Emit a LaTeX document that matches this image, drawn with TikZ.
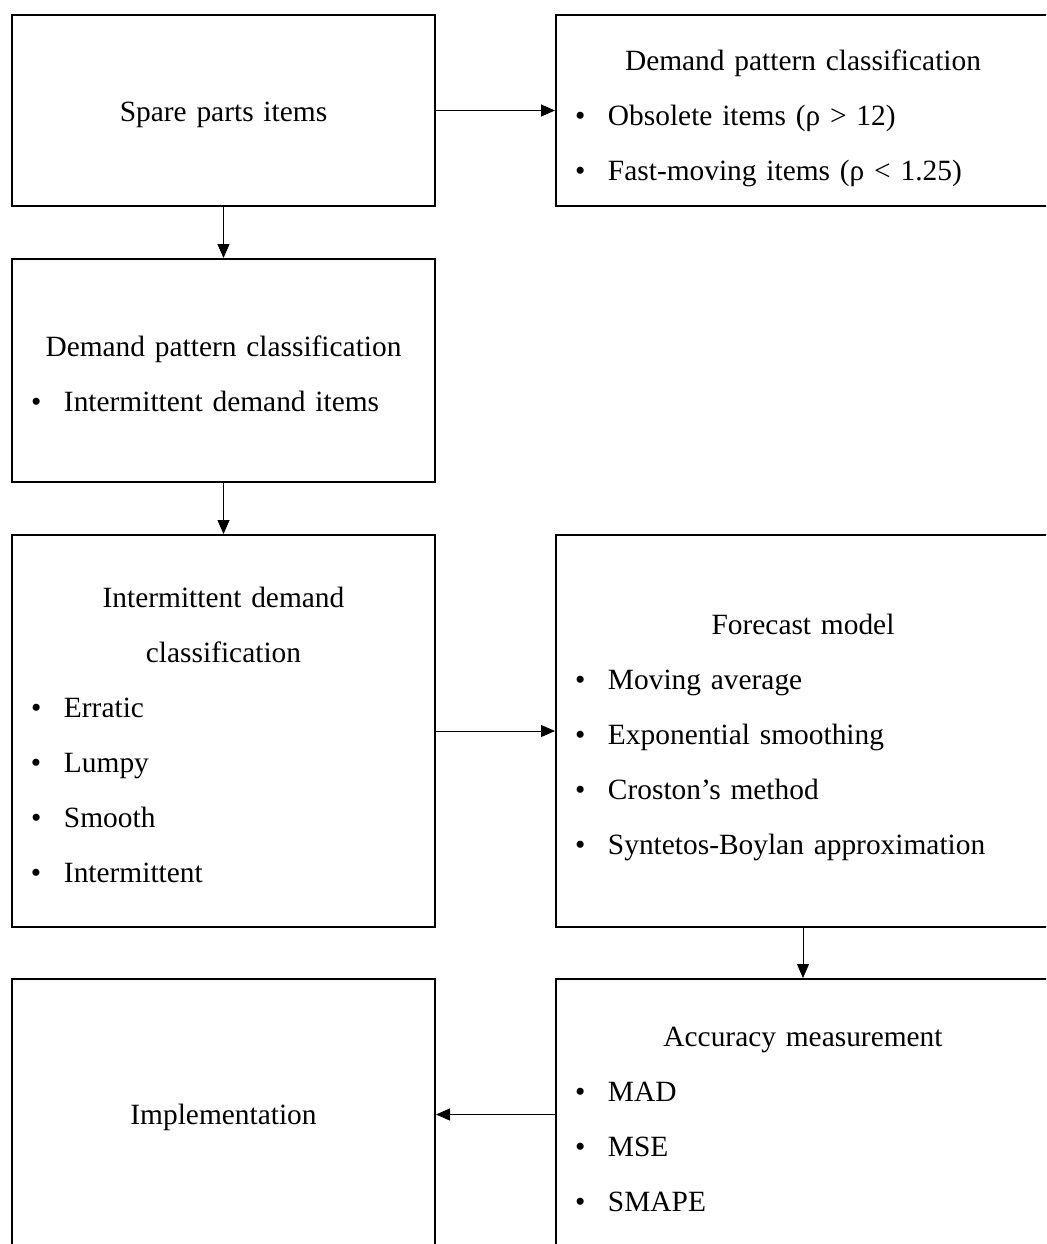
\documentclass[tikz,border=0pt]{standalone}
\usepackage{fontspec}
\setmainfont{Liberation Serif}
\usetikzlibrary{
    arrows.meta,
    positioning
}
\newcommand{\bul}{\hspace*{9.5pt}\makebox[16.5pt][l]{\textbullet}}
\newcommand{\ttl}[1]{\makebox[\linewidth]{#1}}
\tikzset{%
    >={Triangle[width=6pt,length=7pt]},
    % Specifications for style of nodes:
    drop/.style = {execute at begin node={\rule{0pt}{#1}}},
    base/.style = {
        rectangle, draw=black, line width=1pt,
        inner xsep=0pt, inner ysep=4pt,
        font=\fontsize{14.7}{27.5}\selectfont,
        fill=white, align=left
    },
    narrow/.style = {base, minimum width=211.5pt, text width=211.5pt},
    wide/.style = {base, minimum width=247pt, text width=247pt},
    link/.style = {->, line width=0.5pt}
}
\begin{document}
\begin{tikzpicture}
\clip (0,0) rectangle (523pt,-622pt);
% Specification of nodes (position, etc.)
\node (spare) [narrow, drop=14pt, minimum height=95.5pt] at (111.75pt,-55.25pt) {\ttl{Spare parts items}};
\node (dpc1)  [wide, drop=18pt, minimum height=95.5pt, right=59.5pt of spare]
    {\ttl{Demand pattern classification}\\
     \bul Obsolete items (ρ > 12)\\
     \bul Fast-moving items (ρ < 1.25)};
\node (dpc2)  [narrow, drop=14pt, minimum height=111.5pt, below=25.5pt of spare]
    {\ttl{Demand pattern classification}\\
     \bul Intermittent demand items};
\node (idc)   [narrow, drop=14pt, minimum height=196pt, below=25.5pt of dpc2]
    {\ttl{Intermittent demand}\\
     \ttl{classification}\\
     \bul Erratic\\
     \bul Lumpy\\
     \bul Smooth\\
     \bul Intermittent};
\node (fm)    [wide, drop=17pt, minimum height=196pt, right=59.5pt of idc]
    {\ttl{Forecast model}\\
     \bul Moving average\\
     \bul Exponential smoothing\\
     \bul Croston's method\\
     \bul Syntetos-Boylan approximation};
\node (impl)  [narrow, drop=13pt, minimum height=135.5pt, below=25pt of idc] {\ttl{Implementation}};
\node (am)    [wide, drop=15pt, minimum height=135.5pt, right=59.5pt of impl]
    {\ttl{Accuracy measurement}\\
     \bul MAD\\
     \bul MSE\\
     \bul SMAPE};
% Specification of paths
\draw[link] (spare) -- (dpc1);
\draw[link] (spare) -- (dpc2);
\draw[link] (dpc2) -- (idc);
\draw[link] (idc) -- (fm);
\draw[link] (fm) -- (am);
\draw[link] (am) -- (impl);
\end{tikzpicture}
\end{document}
